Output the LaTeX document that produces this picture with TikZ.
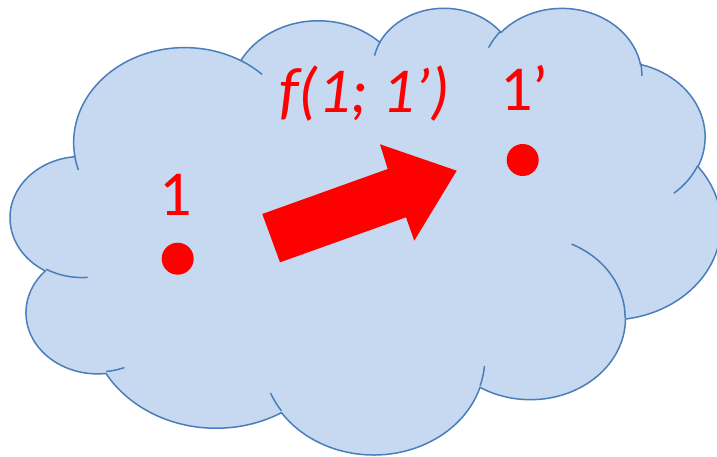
\documentclass[tikz,border=0pt]{standalone}
\usepackage{fontspec}
\setmainfont{Carlito}
\definecolor{cloudfill}{RGB}{198,217,240}
\definecolor{cloudline}{RGB}{74,126,187}
\definecolor{redmark}{RGB}{255,0,0}
% one arc of the cloud outline: x radius, y radius (hundreds of shape units),
% visual start angle and sweep (degrees), y axis pointing down
\newcommand\cld[4]{%
  \pgfextra{%
    \pgfmathsetmacro\cldA{atan2((#1)*sin(#3),(#2)*cos(#3))}%
    \pgfmathsetmacro\cldB{atan2((#1)*sin((#3)+(#4)),(#2)*cos((#3)+(#4)))}%
    \pgfmathsetmacro\cldB{(\cldB<\cldA) ? (\cldB+360) : (\cldB)}%
    \pgfmathsetmacro\cldA{-1*(\cldA)}%
    \pgfmathsetmacro\cldB{-1*(\cldB)}%
    \pgfmathsetmacro\cldX{(#1)*1.644}%
    \pgfmathsetmacro\cldY{(#2)*1.0336}%
  }%
  arc[start angle=\cldA, end angle=\cldB, x radius=\cldX pt, y radius=\cldY pt]%
}
\tikzset{
  cloudbody/.style={fill=cloudfill, draw=cloudline, line width=1.5pt, line join=round},
  cloudseam/.style={draw=cloudline, line width=1.5pt},
  dotmark/.style={circle, fill=redmark, inner sep=0pt, minimum size=32pt},
  lbl/.style={text=redmark, inner sep=0pt, font=\fontsize{64}{72}\selectfont},
}
\begin{document}
\begin{tikzpicture}[x=1pt, y=-1pt]
\useasboundingbox (0,0) rectangle (717,457);
\clip (0,0) rectangle (717,457);
\fill[white] (0,0) rectangle (717,457);
\begin{scope}[shift={(10.56,6.85)}, x=1.644pt, y=-1.0336pt]
  \path[cloudbody] (39.00,143.70)
    \cld{67.53}{91.90}{-190.487}{123.781}
    \cld{53.33}{72.67}{-144.102}{89.945}
    \cld{43.65}{59.45}{-145.808}{99.723}
    \cld{48.57}{65.95}{-130.986}{117.242}
    \cld{53.33}{72.73}{-78.709}{109.027}
    \cld{67.75}{92.20}{-46.267}{130.269}
    \cld{57.85}{78.67}{0.625}{114.033}
    \cld{67.52}{92.15}{22.452}{115.173}
    \cld{77.20}{105.43}{66.243}{75.711}
    \cld{43.60}{59.18}{-274.942}{146.736}
    \cld{43.45}{59.45}{-246.829}{152.519}
    -- cycle;
  \path[cloudseam] (46.93,261.77) \cld{43.45}{59.45}{86.742}{26.430};
  \path[cloudseam] (69.28,348.99) \cld{43.60}{59.18}{73.610}{11.447};
  \path[cloudseam] (164.78,390.90) \cld{67.52}{92.15}{137.624}{14.081};
  \path[cloudseam] (288.27,347.51) \cld{67.52}{92.15}{6.453}{15.998};
  \path[cloudseam] (341.29,229.54) \cld{57.85}{78.67}{-70.292}{70.917};
  \path[cloudseam] (417.98,153.54) \cld{53.33}{72.73}{30.318}{27.752};
  \path[cloudseam] (383.24,54.26) \cld{48.57}{65.95}{-13.744}{14.859};
  \path[cloudseam] (290.78,39.52) \cld{48.57}{65.95}{-149.181}{18.195};
  \path[cloudseam] (221.41,47.20) \cld{43.65}{59.45}{-163.494}{17.686};
  \path[cloudseam] (140.00,51.92) \cld{67.53}{91.90}{-66.707}{12.319};
  \path[cloudseam] (41.27,157.89) \cld{67.53}{91.90}{157.654}{11.858};
\end{scope}
% block arrow
\coordinate (tailA) at (262.3,214.0);
\coordinate (shaftA) at (387.7,169.0);
\coordinate (barbA) at (380.0,144.3);
\coordinate (tip) at (456.7,170.7);
\coordinate (barbB) at (414.3,240.7);
\coordinate (shaftB) at (406.0,217.3);
\coordinate (tailB) at (280.0,262.3);
\fill[redmark] (tailA) -- (shaftA) -- (barbA) -- (tip) -- (barbB) -- (shaftB) -- (tailB) -- cycle;
% points and labels
\node[dotmark] (p1) at (177.7,258.7) {};
\node[dotmark] (p2) at (522.7,160.0) {};
\node[lbl, anchor=base] (l1) at (176,215) {1};
\node[lbl, anchor=base west] (l2) at (500,111) {1’};
\node[lbl, anchor=base west, font=\fontsize{64}{72}\selectfont\itshape] (lf) at (279,113) {f(1; 1’)};
\end{tikzpicture}
\end{document}
